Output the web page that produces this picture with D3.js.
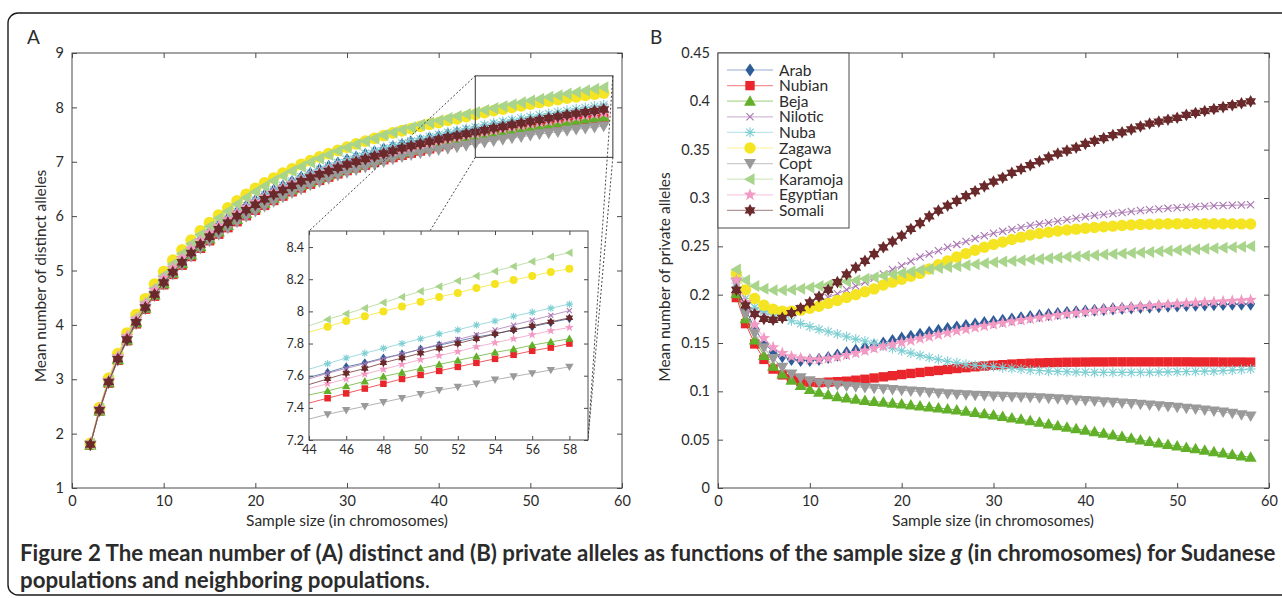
<!DOCTYPE html>
<html>
<head>
<meta charset="utf-8">
<script src="https://cdn.jsdelivr.net/npm/d3@7"></script>
<style>
  body { margin: 0; background: #fff; }
  text { font-family: Lato, "Open Sans", sans-serif; fill: #2b2b2b; }
</style>
</head>
<body>
<svg id="fig" width="1282" height="598"></svg>
<script>
(function(){

    //sample sizes (in chromosomes), shared by every series
    var sampleSizes = [2,3,4,5,6,7,8,9,10,11,12,13,14,15,16,17,18,19,20,21,22,23,24,25,26,27,28,29,30,
        31,32,33,34,35,36,37,38,39,40,41,42,43,44,45,46,47,48,49,50,51,52,53,54,55,56,57,58];

    var populations = ["Arab","Nubian","Beja","Nilotic","Nuba","Zagawa","Copt","Karamoja","Egyptian","Somali"];
    var popColors = ["#2c5d99","#e8262b","#62b02a","#a874b0","#7fcfd3","#f4e422","#9a9a9a","#a9d48c","#f29ac3","#6a2a2b"];
    var popMarkers = ["diamond","square","triangle-up","x","asterisk","circle","triangle-down","triangle-left","pentagram","hexagram"];

    //panel A: mean number of distinct alleles
    var distinctArab = [1.81,2.45,2.97,3.40,3.77,4.10,4.38,4.62,4.84,5.04,5.22,5.39,5.55,5.69,5.83,5.95,6.07,6.18,6.28,6.38,6.47,6.55,6.63,6.71,6.78,6.85,6.91,6.97,7.03,7.08,7.13,7.18,7.23,7.27,7.31,7.35,7.39,7.43,7.46,7.50,7.53,7.56,7.59,7.62,7.655,7.68,7.71,7.735,7.765,7.79,7.815,7.84,7.86,7.885,7.905,7.93,7.955];
    var distinctNubian = [1.79,2.42,2.93,3.35,3.71,4.02,4.29,4.53,4.74,4.93,5.10,5.26,5.41,5.55,5.67,5.79,5.90,6.01,6.11,6.20,6.29,6.37,6.45,6.52,6.59,6.66,6.72,6.78,6.84,6.89,6.94,6.99,7.04,7.08,7.12,7.16,7.20,7.24,7.28,7.32,7.36,7.395,7.43,7.46,7.49,7.52,7.55,7.58,7.605,7.63,7.655,7.68,7.705,7.73,7.755,7.775,7.80];
    var distinctBeja = [1.79,2.42,2.94,3.36,3.72,4.04,4.31,4.55,4.76,4.95,5.13,5.29,5.44,5.58,5.71,5.83,5.94,6.05,6.15,6.24,6.33,6.41,6.49,6.56,6.63,6.70,6.76,6.82,6.88,6.93,6.98,7.03,7.09,7.13,7.17,7.21,7.25,7.29,7.33,7.37,7.41,7.445,7.48,7.505,7.535,7.565,7.595,7.62,7.645,7.67,7.695,7.72,7.745,7.765,7.79,7.81,7.83];
    var distinctNilotic = [1.80,2.44,2.96,3.39,3.76,4.08,4.36,4.60,4.82,5.02,5.20,5.37,5.52,5.66,5.80,5.92,6.04,6.15,6.25,6.35,6.44,6.52,6.60,6.68,6.75,6.82,6.88,6.94,7.00,7.05,7.10,7.15,7.20,7.25,7.29,7.33,7.37,7.41,7.45,7.48,7.52,7.55,7.58,7.615,7.645,7.675,7.705,7.735,7.765,7.795,7.825,7.855,7.885,7.915,7.945,7.975,8.005];
    var distinctNuba = [1.81,2.45,2.98,3.41,3.78,4.11,4.39,4.63,4.85,5.05,5.23,5.40,5.56,5.70,5.84,5.96,6.08,6.19,6.29,6.39,6.48,6.56,6.64,6.72,6.79,6.86,6.92,6.98,7.04,7.10,7.15,7.20,7.25,7.30,7.34,7.38,7.42,7.46,7.50,7.54,7.57,7.605,7.64,7.675,7.71,7.74,7.77,7.80,7.83,7.86,7.885,7.915,7.94,7.97,7.995,8.02,8.045];
    var distinctZagawa = [1.82,2.48,3.02,3.47,3.85,4.19,4.48,4.75,4.98,5.19,5.38,5.56,5.73,5.88,6.02,6.15,6.28,6.40,6.51,6.61,6.70,6.79,6.87,6.95,7.02,7.09,7.15,7.21,7.27,7.33,7.38,7.43,7.48,7.53,7.57,7.61,7.65,7.69,7.72,7.76,7.79,7.83,7.87,7.905,7.94,7.97,8.00,8.03,8.06,8.09,8.115,8.145,8.17,8.195,8.22,8.245,8.265];
    var distinctCopt = [1.79,2.42,2.93,3.35,3.71,4.02,4.29,4.53,4.74,4.93,5.10,5.26,5.41,5.54,5.66,5.78,5.89,5.99,6.09,6.18,6.27,6.35,6.43,6.50,6.57,6.63,6.69,6.75,6.80,6.85,6.90,6.95,7.00,7.05,7.09,7.13,7.16,7.19,7.22,7.245,7.27,7.30,7.33,7.36,7.385,7.41,7.435,7.46,7.485,7.51,7.53,7.55,7.575,7.595,7.615,7.635,7.655];
    var distinctKaramoja = [1.81,2.46,2.99,3.43,3.80,4.13,4.42,4.68,4.91,5.12,5.31,5.49,5.66,5.81,5.96,6.09,6.22,6.34,6.45,6.55,6.65,6.74,6.83,6.91,6.99,7.06,7.13,7.20,7.26,7.32,7.38,7.43,7.49,7.54,7.59,7.63,7.68,7.72,7.76,7.80,7.84,7.875,7.91,7.95,7.985,8.02,8.055,8.09,8.125,8.155,8.19,8.22,8.25,8.28,8.31,8.34,8.365];
    var distinctEgyptian = [1.82,2.46,2.98,3.42,3.79,4.11,4.39,4.64,4.86,5.05,5.23,5.40,5.55,5.69,5.82,5.94,6.06,6.16,6.26,6.35,6.44,6.52,6.60,6.67,6.74,6.80,6.86,6.92,6.97,7.02,7.07,7.12,7.16,7.20,7.24,7.28,7.32,7.35,7.39,7.42,7.45,7.49,7.52,7.55,7.58,7.61,7.64,7.67,7.70,7.725,7.75,7.78,7.805,7.83,7.855,7.88,7.90];
    var distinctSomali = [1.80,2.43,2.95,3.37,3.73,4.05,4.32,4.56,4.78,4.97,5.15,5.32,5.48,5.62,5.76,5.88,6.00,6.11,6.21,6.31,6.40,6.48,6.56,6.64,6.71,6.77,6.83,6.89,6.95,7.00,7.05,7.10,7.15,7.20,7.25,7.29,7.33,7.37,7.41,7.45,7.48,7.515,7.545,7.58,7.615,7.645,7.68,7.71,7.74,7.77,7.80,7.83,7.86,7.885,7.91,7.935,7.96];

    //panel B: mean number of private alleles
    var privateArab = [0.207,0.185,0.165,0.150,0.141,0.136,0.133,0.132,0.132,0.133,0.135,0.1375,0.140,0.1425,0.145,0.1475,0.150,0.1525,0.155,0.157,0.159,0.161,0.163,0.165,0.1665,0.168,0.1695,0.171,0.1722,0.1735,0.1748,0.176,0.1772,0.1783,0.1794,0.1805,0.1815,0.1823,0.1831,0.1839,0.1846,0.1852,0.1857,0.1862,0.1867,0.1872,0.1876,0.188,0.1884,0.1888,0.1891,0.1894,0.1897,0.1899,0.1901,0.1902,0.1903];
    var privateNubian = [0.197,0.170,0.149,0.133,0.123,0.117,0.113,0.1105,0.1095,0.109,0.1095,0.110,0.1105,0.1115,0.1125,0.1138,0.115,0.1162,0.1174,0.1185,0.1195,0.1206,0.1216,0.1226,0.1236,0.1245,0.1254,0.1262,0.127,0.1276,0.1282,0.1287,0.1291,0.1294,0.1297,0.1299,0.1301,0.1302,0.1303,0.1304,0.1304,0.1305,0.1305,0.1305,0.1305,0.1305,0.1305,0.1305,0.1305,0.1305,0.1304,0.1304,0.1304,0.1303,0.1303,0.1303,0.1302];
    var privateBeja = [0.201,0.175,0.153,0.137,0.126,0.118,0.1115,0.106,0.102,0.099,0.0965,0.0945,0.093,0.0917,0.0905,0.0895,0.0886,0.0877,0.0868,0.0858,0.0848,0.0838,0.0828,0.0818,0.0807,0.0794,0.0781,0.0768,0.0755,0.074,0.0725,0.071,0.0696,0.0679,0.0662,0.0645,0.0628,0.0613,0.0597,0.0582,0.0566,0.0549,0.0532,0.0514,0.0497,0.0481,0.0466,0.045,0.0434,0.042,0.0405,0.039,0.0376,0.0361,0.0346,0.0332,0.0317];
    var privateNilotic = [0.205,0.190,0.183,0.180,0.180,0.181,0.183,0.186,0.189,0.193,0.197,0.201,0.205,0.209,0.213,0.217,0.2215,0.226,0.230,0.2345,0.239,0.242,0.2455,0.249,0.252,0.255,0.258,0.261,0.2635,0.2655,0.2675,0.2695,0.2715,0.273,0.2745,0.276,0.2775,0.279,0.2805,0.282,0.283,0.284,0.285,0.286,0.287,0.2878,0.2886,0.2893,0.290,0.2905,0.291,0.2915,0.292,0.2922,0.2925,0.2927,0.293];
    var privateNuba = [0.212,0.196,0.187,0.183,0.180,0.1765,0.173,0.170,0.167,0.164,0.1617,0.1593,0.1565,0.154,0.152,0.1496,0.147,0.1445,0.142,0.1395,0.1372,0.135,0.133,0.131,0.1295,0.128,0.127,0.1262,0.1255,0.1246,0.1238,0.1229,0.122,0.1215,0.121,0.1206,0.1203,0.120,0.1198,0.1197,0.1196,0.1196,0.1196,0.1196,0.1196,0.1197,0.1199,0.1201,0.1203,0.1205,0.1207,0.1209,0.121,0.1214,0.1219,0.1225,0.1231];
    var privateZagawa = [0.222,0.205,0.196,0.189,0.185,0.183,0.183,0.184,0.186,0.188,0.191,0.194,0.197,0.200,0.203,0.206,0.210,0.213,0.216,0.219,0.222,0.2265,0.231,0.235,0.239,0.2425,0.246,0.249,0.252,0.2545,0.257,0.2595,0.2617,0.2632,0.2645,0.2658,0.2669,0.2678,0.2687,0.2695,0.2703,0.2709,0.2715,0.2721,0.2727,0.2729,0.2731,0.2733,0.2734,0.2735,0.2735,0.2734,0.2734,0.2733,0.2733,0.2732,0.2731];
    var privateCopt = [0.213,0.180,0.160,0.145,0.134,0.125,0.118,0.114,0.111,0.109,0.1075,0.1065,0.1055,0.1047,0.104,0.1033,0.1026,0.1019,0.1012,0.1004,0.0997,0.099,0.0983,0.0976,0.0969,0.0965,0.096,0.0956,0.0952,0.0948,0.0945,0.0941,0.0938,0.0933,0.0928,0.0922,0.0917,0.0911,0.0905,0.0899,0.0893,0.0887,0.088,0.0873,0.0866,0.0858,0.0851,0.0843,0.0835,0.0826,0.0816,0.0807,0.0797,0.0785,0.0772,0.0759,0.0745];
    var privateKaramoja = [0.226,0.215,0.209,0.206,0.2045,0.2045,0.205,0.206,0.2075,0.209,0.2105,0.212,0.2135,0.215,0.2165,0.218,0.2195,0.221,0.2225,0.224,0.2255,0.2265,0.2275,0.2285,0.2295,0.2305,0.2315,0.2325,0.2335,0.2342,0.2349,0.2356,0.2363,0.237,0.2377,0.2384,0.2391,0.2397,0.2403,0.2409,0.2415,0.242,0.2425,0.243,0.2436,0.2442,0.2448,0.2454,0.246,0.2465,0.247,0.2475,0.248,0.2485,0.249,0.2496,0.2502];
    var privateEgyptian = [0.215,0.192,0.169,0.155,0.1455,0.1395,0.136,0.134,0.133,0.133,0.134,0.1355,0.1375,0.1395,0.142,0.1445,0.1465,0.1485,0.1505,0.1525,0.1545,0.1565,0.1585,0.1605,0.1625,0.1643,0.166,0.1676,0.1692,0.1707,0.1722,0.1736,0.175,0.1763,0.1776,0.1788,0.180,0.1811,0.1822,0.1832,0.1842,0.1851,0.186,0.1868,0.1876,0.1883,0.189,0.1897,0.1903,0.1909,0.1915,0.192,0.1925,0.193,0.1935,0.194,0.1945];
    var privateSomali = [0.205,0.189,0.180,0.175,0.174,0.176,0.181,0.186,0.192,0.198,0.205,0.213,0.221,0.228,0.235,0.242,0.249,0.255,0.261,0.268,0.274,0.281,0.287,0.292,0.297,0.302,0.307,0.312,0.317,0.321,0.326,0.330,0.334,0.338,0.342,0.346,0.349,0.352,0.356,0.359,0.362,0.365,0.368,0.371,0.374,0.377,0.379,0.381,0.383,0.386,0.388,0.390,0.392,0.394,0.396,0.398,0.400];

    var distinctSeries = [distinctArab,distinctNubian,distinctBeja,distinctNilotic,distinctNuba,distinctZagawa,distinctCopt,distinctKaramoja,distinctEgyptian,distinctSomali];
    var privateSeries = [privateArab,privateNubian,privateBeja,privateNilotic,privateNuba,privateZagawa,privateCopt,privateKaramoja,privateEgyptian,privateSomali];

    //tick values
    var sampleTicks = [0,10,20,30,40,50,60];
    var distinctTicks = [1,2,3,4,5,6,7,8,9];
    var privateTicks = [0,0.05,0.1,0.15,0.2,0.25,0.3,0.35,0.4,0.45];
    var insetSampleTicks = [44,46,48,50,52,54,56,58];
    var insetDistinctTicks = [7.2,7.4,7.6,7.8,8,8.2,8.4];

    //zoom window drawn on panel A and the inset range
    var zoomSample = [44,59], zoomDistinct = [7.08,8.58];
    var insetDomainY = [7.2,8.5];

    var svg = d3.select("#fig");

    //outer frame of the figure
    svg.append("rect")
        .attr("x", 8).attr("y", 13)
        .attr("width", 1290).attr("height", 582)
        .attr("rx", 10)
        .attr("fill", "none")
        .attr("stroke", "#1a1a1a")
        .attr("stroke-width", 1.4);

    //scales
    var xA = d3.scaleLinear().domain([0,60]).range([72,622]);
    var yA = d3.scaleLinear().domain([1,9]).range([488,53]);
    var xB = d3.scaleLinear().domain([0,60]).range([718,1269]);
    var yB = d3.scaleLinear().domain([0,0.45]).range([488,53]);
    var xI = d3.scaleLinear().domain([44,59]).range([309,588]);
    var yI = d3.scaleLinear().domain(insetDomainY).range([440,231]);

    //marker shapes, s = half size
    function markerPath(type, s){
        var i, pts = [], a;
        switch(type){
            case "diamond":
                return "M0," + (-s*1.1) + "L" + (s*0.75) + ",0L0," + (s*1.1) + "L" + (-s*0.75) + ",0Z";
            case "square":
                a = s*0.78;
                return "M" + (-a) + "," + (-a) + "H" + a + "V" + a + "H" + (-a) + "Z";
            case "triangle-up":
                return "M0," + (-s) + "L" + s + "," + (s*0.75) + "L" + (-s) + "," + (s*0.75) + "Z";
            case "triangle-down":
                return "M0," + s + "L" + s + "," + (-s*0.75) + "L" + (-s) + "," + (-s*0.75) + "Z";
            case "triangle-left":
                return "M" + (-s) + ",0L" + (s*0.75) + "," + (-s) + "L" + (s*0.75) + "," + s + "Z";
            case "circle":
                a = s*0.95;
                return "M" + a + ",0A" + a + "," + a + " 0 1 1 " + (-a) + ",0A" + a + "," + a + " 0 1 1 " + a + ",0Z";
            case "x":
                a = s*0.6;
                return "M" + (-a) + "," + (-a) + "L" + a + "," + a + "M" + (-a) + "," + a + "L" + a + "," + (-a);
            case "asterisk":
                a = s*0.62;
                var b = s*0.85;
                return "M0," + (-b) + "V" + b + "M" + (-b) + ",0H" + b +
                    "M" + (-a) + "," + (-a) + "L" + a + "," + a + "M" + (-a) + "," + a + "L" + a + "," + (-a);
            case "pentagram":
                for (i = 0; i < 10; i++){
                    var r5 = (i % 2 === 0) ? s*1.1 : s*0.45;
                    var t5 = -Math.PI/2 + i*Math.PI/5;
                    pts.push([r5*Math.cos(t5), r5*Math.sin(t5)]);
                }
                return "M" + pts.join("L") + "Z";
            case "hexagram":
                for (i = 0; i < 12; i++){
                    var r6 = (i % 2 === 0) ? s*1.05 : s*0.6;
                    var t6 = -Math.PI/2 + i*Math.PI/6;
                    pts.push([r6*Math.cos(t6), r6*Math.sin(t6)]);
                }
                return "M" + pts.join("L") + "Z";
        }
    }

    function isStrokeMarker(type){
        return type === "x" || type === "asterisk";
    }

    function styleMarker(sel, i){
        if (isStrokeMarker(popMarkers[i])) {
            sel.attr("fill", "none").attr("stroke", popColors[i]).attr("stroke-width", 1.1);
        } else {
            sel.attr("fill", popColors[i]).attr("stroke", "none");
        }
    }

    //axes with inward ticks on all four sides, like the original plots
    function drawAxes(g, x, y, xTicks, yTicks, fmtX, fmtY, fontSize, tickLen, padX, padY){
        var xr = x.range(), yr = y.range();
        var bottom = g.append("g")
            .attr("transform", "translate(0," + yr[0] + ")")
            .call(d3.axisBottom(x).tickValues(xTicks).tickSize(-tickLen).tickSizeOuter(0).tickPadding(padX).tickFormat(fmtX));
        var left = g.append("g")
            .attr("transform", "translate(" + xr[0] + ",0)")
            .call(d3.axisLeft(y).tickValues(yTicks).tickSize(-tickLen).tickSizeOuter(0).tickPadding(padY).tickFormat(fmtY));
        var top = g.append("g")
            .attr("transform", "translate(0," + yr[1] + ")")
            .call(d3.axisTop(x).tickValues(xTicks).tickSize(-tickLen).tickSizeOuter(0).tickFormat(""));
        var right = g.append("g")
            .attr("transform", "translate(" + xr[1] + ",0)")
            .call(d3.axisRight(y).tickValues(yTicks).tickSize(-tickLen).tickSizeOuter(0).tickFormat(""));
        [bottom, left, top, right].forEach(function(ax){
            ax.select(".domain").remove();
            ax.selectAll(".tick line").attr("stroke", "#4a4a4a").attr("stroke-width", 1);
            ax.selectAll("text")
                .attr("font-family", "Lato, sans-serif")
                .attr("font-size", fontSize)
                .attr("fill", "#2b2b2b");
            ax.attr("font-family", null).attr("font-size", null);
        });
        g.append("rect")
            .attr("x", xr[0]).attr("y", yr[1])
            .attr("width", xr[1] - xr[0]).attr("height", yr[0] - yr[1])
            .attr("fill", "none")
            .attr("stroke", "#4a4a4a")
            .attr("stroke-width", 1);
    }

    function fmtPlain(d){ return String(+d.toFixed(2)); }

    //draw one series: thin line plus markers
    function drawSeries(g, x, y, values, i, size, minX, lineOpacity){
        var pts = sampleSizes.map(function(s, k){ return [s, values[k]]; });
        var line = d3.line()
            .x(function(d){ return x(d[0]); })
            .y(function(d){ return y(d[1]); });
        g.append("path")
            .datum(pts)
            .attr("d", line)
            .attr("fill", "none")
            .attr("stroke", popColors[i])
            .attr("stroke-opacity", lineOpacity)
            .attr("stroke-width", 1);
        var marks = g.selectAll(".m" + i)
            .data(pts.filter(function(d){ return d[0] >= minX; }))
            .enter()
            .append("path")
            .attr("class", "m" + i)
            .attr("transform", function(d){ return "translate(" + x(d[0]) + "," + y(d[1]) + ")"; })
            .attr("d", markerPath(popMarkers[i], size));
        styleMarker(marks, i);
    }

    //---------- panel A ----------
    var gA = svg.append("g");
    var plotA = gA.append("g");
    distinctSeries.forEach(function(vals, i){
        drawSeries(plotA, xA, yA, vals, i, 6.2, 0, 0.8);
    });
    drawAxes(gA, xA, yA, sampleTicks, distinctTicks, d3.format("d"), d3.format("d"), 14.5, 5, 8, 8);

    //zoom window and connecting dotted lines
    gA.append("rect")
        .attr("x", xA(zoomSample[0])).attr("y", yA(zoomDistinct[1]))
        .attr("width", xA(zoomSample[1]) - xA(zoomSample[0]))
        .attr("height", yA(zoomDistinct[0]) - yA(zoomDistinct[1]))
        .attr("fill", "none").attr("stroke", "#555").attr("stroke-width", 1.2);

    var connectors = [
        [[xA(zoomSample[0]), yA(zoomDistinct[1])], [xI(44), yI(insetDomainY[1])]],
        [[xA(zoomSample[0]), yA(zoomDistinct[0])], [xI(50.5), yI(insetDomainY[1])]],
        [[xA(zoomSample[1]), yA(zoomDistinct[1])], [xI(59), yI(insetDomainY[0])]],
        [[xA(zoomSample[1]), yA(zoomDistinct[0])], [xI(59), yI(insetDomainY[0])]]
    ];
    gA.selectAll(".connector")
        .data(connectors)
        .enter()
        .append("line")
        .attr("class", "connector")
        .attr("x1", function(d){ return d[0][0]; })
        .attr("y1", function(d){ return d[0][1]; })
        .attr("x2", function(d){ return d[1][0]; })
        .attr("y2", function(d){ return d[1][1]; })
        .attr("stroke", "#333")
        .attr("stroke-width", 0.9)
        .attr("stroke-dasharray", "2,2");

    //inset
    var gI = gA.append("g");
    gI.append("rect")
        .attr("x", xI.range()[0]).attr("y", yI.range()[1])
        .attr("width", xI.range()[1] - xI.range()[0])
        .attr("height", yI.range()[0] - yI.range()[1])
        .attr("fill", "#fff");
    svg.append("defs").append("clipPath").attr("id", "insetClip")
        .append("rect")
        .attr("x", xI.range()[0]).attr("y", yI.range()[1])
        .attr("width", xI.range()[1] - xI.range()[0])
        .attr("height", yI.range()[0] - yI.range()[1]);
    var plotI = gI.append("g").attr("clip-path", "url(#insetClip)");
    distinctSeries.forEach(function(vals, i){
        drawSeries(plotI, xI, yI, vals, i, 4.2, 45, 0.75);
    });
    drawAxes(gI, xI, yI, insetSampleTicks, insetDistinctTicks, d3.format("d"), fmtPlain, 12.5, 4, 5, 5);

    //---------- panel B ----------
    var gB = svg.append("g");
    var plotB = gB.append("g");
    privateSeries.forEach(function(vals, i){
        drawSeries(plotB, xB, yB, vals, i, 6, 0, 0.85);
    });
    drawAxes(gB, xB, yB, sampleTicks, privateTicks, d3.format("d"), fmtPlain, 14.5, 5, 8, 8);

    //legend
    var legend = gB.append("g");
    legend.append("rect")
        .attr("x", 718).attr("y", 53)
        .attr("width", 131).attr("height", 175)
        .attr("fill", "#fff").attr("stroke", "#4a4a4a").attr("stroke-width", 1);
    var items = legend.selectAll(".item")
        .data(populations)
        .enter()
        .append("g")
        .attr("class", "item")
        .attr("transform", function(d, i){ return "translate(0," + (70 + i*15.6) + ")"; });
    items.append("line")
        .attr("x1", 727).attr("x2", 773)
        .attr("stroke", function(d, i){ return popColors[i]; })
        .attr("stroke-opacity", 0.5)
        .attr("stroke-width", 1.2);
    items.append("path")
        .attr("transform", "translate(750,0)")
        .attr("d", function(d, i){ return markerPath(popMarkers[i], 6); })
        .each(function(d, i){ styleMarker(d3.select(this), i); });
    items.append("text")
        .attr("x", 779).attr("y", 0)
        .attr("dy", "0.36em")
        .attr("font-size", 15.5)
        .text(function(d){ return d; });

    //---------- titles ----------
    function axisTitle(x, y, rot, txt){
        svg.append("text")
            .attr("transform", "translate(" + x + "," + y + ") rotate(" + rot + ")")
            .attr("text-anchor", "middle")
            .attr("font-size", 15.5)
            .text(txt);
    }
    axisTitle(347, 526, 0, "Sample size (in chromosomes)");
    axisTitle(993, 526, 0, "Sample size (in chromosomes)");
    axisTitle(46, 276, -90, "Mean number of distinct alleles");
    axisTitle(670, 277, -90, "Mean number of private alleles");

    svg.append("text").attr("x", 27).attr("y", 44).attr("font-size", 19).text("A");
    svg.append("text").attr("x", 650).attr("y", 44).attr("font-size", 19).text("B");

    //---------- caption ----------
    var cap1 = svg.append("text")
        .attr("x", 20).attr("y", 561)
        .attr("font-weight", "bold")
        .attr("font-size", 18)
        .attr("fill", "#231f20");
    cap1.append("tspan").text("Figure 2 The mean number of (A) distinct and (B) private alleles as functions of the sample size ");
    cap1.append("tspan").attr("font-style", "italic").text("g");
    cap1.append("tspan").text(" (in chromosomes) for Sudanese");

    var cap2 = svg.append("text")
        .attr("x", 20).attr("y", 588)
        .attr("font-weight", "bold")
        .attr("font-size", 18)
        .attr("fill", "#231f20");
    cap2.append("tspan").text("populations and neighboring populations");
    cap2.append("tspan").attr("font-weight", "normal").text(".");

    //fit the first caption line to the frame width
    var natural = cap1.node().getComputedTextLength();
    var capSize = 18 * 1256 / natural;
    cap1.attr("font-size", capSize);
    cap2.attr("font-size", capSize);

})();
</script>
</body>
</html>
